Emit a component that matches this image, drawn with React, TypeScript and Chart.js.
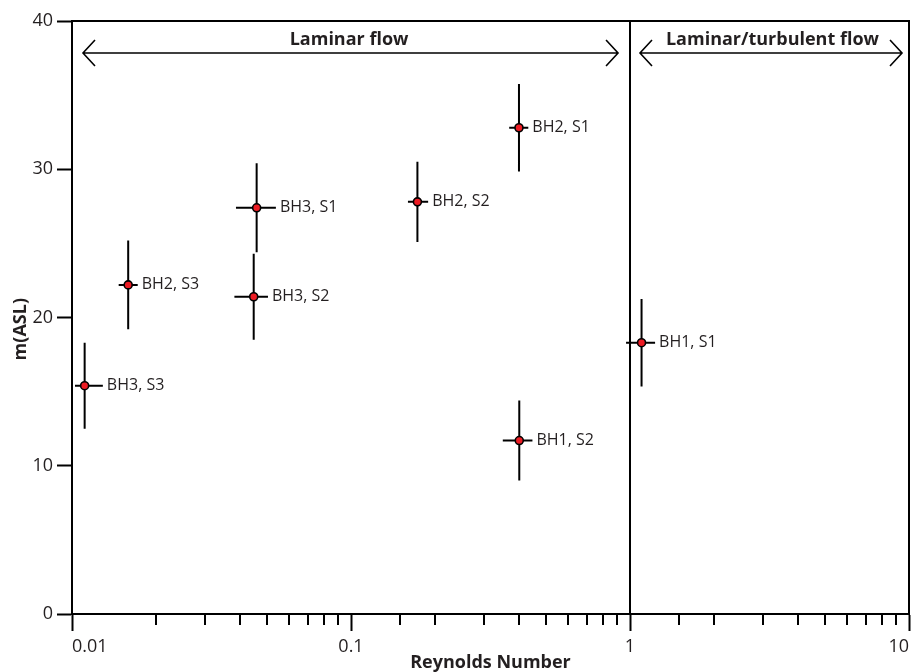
import React, { useEffect, useRef } from 'react';
import { Chart, registerables } from 'chart.js';

Chart.register(...registerables);

// ---- data ----
const sampleLabels = ['BH3, S3', 'BH2, S3', 'BH3, S2', 'BH3, S1', 'BH2, S2', 'BH2, S1', 'BH1, S2', 'BH1, S1'];
const reynolds = [0.0111, 0.0159, 0.0448, 0.0459, 0.173, 0.4, 0.401, 1.1];
const reynoldsLow = [0.01025, 0.0147, 0.0382, 0.0387, 0.16, 0.369, 0.35, 0.968];
const reynoldsHigh = [0.0129, 0.0172, 0.0504, 0.0538, 0.189, 0.432, 0.447, 1.23];
const elevation = [15.4, 22.2, 21.4, 27.4, 27.8, 32.8, 11.7, 18.3];
const elevationErr = [2.9, 3.0, 2.9, 3.0, 2.7, 2.95, 2.7, 2.95];
const xTickLabels = [0.01, 0.1, 1, 10];
const yTickValues = [0, 10, 20, 30, 40];

// flow regimes
const regimeBoundary = 1;
const regimeNames = ['Laminar flow', 'Laminar/turbulent flow'];
const regimeFrom = [0.01095, 1.086];
const regimeTo = [0.906, 9.44];
const regimeLabelAt = [0.0984, 3.24];
const regimeArrowLevel = 37.84;
const regimeLabelLevel = 38.4;

const FONT = "'Open Sans', 'Noto Sans', sans-serif";
const TEXT = '#231f20';

const isMajor = (v: number) => {
  const l = Math.log10(v);
  return Math.abs(l - Math.round(l)) < 1e-6;
};

const overlay = {
  id: 'overlay',
  beforeDatasetsDraw(chart: any) {
    const { ctx, chartArea: a, scales } = chart;
    const x = scales.x;
    const y = scales.y;
    ctx.save();
    ctx.strokeStyle = '#000';
    ctx.lineWidth = 2;
    ctx.lineCap = 'butt';
    // top + right frame
    ctx.beginPath();
    ctx.moveTo(a.left - 1, a.top);
    ctx.lineTo(a.right, a.top);
    ctx.lineTo(a.right, a.bottom);
    ctx.stroke();
    // regime boundary
    const bx = x.getPixelForValue(regimeBoundary);
    ctx.beginPath();
    ctx.moveTo(bx, a.top);
    ctx.lineTo(bx, a.bottom);
    ctx.stroke();
    // minor ticks
    ctx.beginPath();
    x.ticks.forEach((t: any) => {
      if (!isMajor(t.value)) {
        const px = Math.round(x.getPixelForValue(t.value));
        ctx.moveTo(px, a.bottom);
        ctx.lineTo(px, a.bottom + 11);
      }
    });
    ctx.stroke();
    // error bars
    ctx.beginPath();
    for (let i = 0; i < reynolds.length; i++) {
      const px = x.getPixelForValue(reynolds[i]);
      const py = y.getPixelForValue(elevation[i]);
      ctx.moveTo(px, y.getPixelForValue(elevation[i] + elevationErr[i]));
      ctx.lineTo(px, y.getPixelForValue(elevation[i] - elevationErr[i]));
      ctx.moveTo(x.getPixelForValue(reynoldsLow[i]), py);
      ctx.lineTo(x.getPixelForValue(reynoldsHigh[i]), py);
    }
    ctx.stroke();
    ctx.restore();
  },
  afterDatasetsDraw(chart: any) {
    const { ctx, scales } = chart;
    const x = scales.x;
    const y = scales.y;
    ctx.save();
    // point labels
    ctx.fillStyle = TEXT;
    ctx.font = `16px ${FONT}`;
    ctx.textAlign = 'left';
    ctx.textBaseline = 'middle';
    for (let i = 0; i < reynolds.length; i++) {
      ctx.fillText(sampleLabels[i], x.getPixelForValue(reynoldsHigh[i]) + 4, y.getPixelForValue(elevation[i]));
    }
    // regime arrows
    ctx.strokeStyle = '#000';
    ctx.lineWidth = 1.6;
    const ay = y.getPixelForValue(regimeArrowLevel);
    for (let i = 0; i < regimeNames.length; i++) {
      const x0 = x.getPixelForValue(regimeFrom[i]);
      const x1 = x.getPixelForValue(regimeTo[i]);
      ctx.beginPath();
      ctx.moveTo(x0, ay);
      ctx.lineTo(x1, ay);
      ctx.moveTo(x0 + 12, ay - 13);
      ctx.lineTo(x0, ay);
      ctx.lineTo(x0 + 12, ay + 13);
      ctx.moveTo(x1 - 12, ay - 13);
      ctx.lineTo(x1, ay);
      ctx.lineTo(x1 - 12, ay + 13);
      ctx.stroke();
      ctx.font = `bold 18px ${FONT}`;
      ctx.textAlign = 'center';
      ctx.textBaseline = 'alphabetic';
      ctx.fillText(regimeNames[i], x.getPixelForValue(regimeLabelAt[i]), y.getPixelForValue(regimeLabelLevel));
    }
    ctx.restore();
  },
};

export default function App() {
  const ref = useRef<HTMLCanvasElement | null>(null);
  useEffect(() => {
    document.body.style.margin = '0';
    if (!ref.current) return;
    const chart = new Chart(ref.current, {
      type: 'scatter',
      data: {
        datasets: [
          {
            data: reynolds.map((v, i) => ({ x: v, y: elevation[i] })),
            pointRadius: 4,
            pointHoverRadius: 4,
            pointBackgroundColor: '#ed1c24',
            pointBorderColor: '#000',
            pointBorderWidth: 1.6,
            showLine: false,
          },
        ],
      },
      options: {
        animation: false,
        responsive: true,
        maintainAspectRatio: false,
        layout: { padding: { top: 21, right: 7, left: 0, bottom: 0 } },
        plugins: { legend: { display: false }, tooltip: { enabled: false } },
        scales: {
          x: {
            type: 'logarithmic',
            min: 0.01,
            max: 10,
            afterFit: (s: any) => {
              s.height = 58;
            },
            border: { display: true, color: '#000', width: 2 },
            grid: {
              drawOnChartArea: false,
              drawTicks: true,
              tickLength: 17,
              tickWidth: 2,
              tickColor: (c: any) => (c.tick && isMajor(c.tick.value) ? '#000' : 'rgba(0,0,0,0)'),
            },
            ticks: {
              autoSkip: false,
              maxRotation: 0,
              align: 'inner',
              padding: 5,
              color: TEXT,
              font: { family: FONT, size: 18 },
              callback: (v: any) => (xTickLabels.some((t) => Math.abs(t - Number(v)) < 1e-9) ? String(Number(v)) : ''),
            },
            title: {
              display: true,
              text: 'Reynolds Number',
              color: TEXT,
              padding: 0,
              font: { family: FONT, size: 18, weight: 'bold', lineHeight: 1 },
            },
          },
          y: {
            min: 0,
            max: 40,
            afterFit: (s: any) => {
              s.width = 72;
            },
            afterBuildTicks: (s: any) => {
              s.ticks = yTickValues.map((v) => ({ value: v }));
            },
            border: { display: true, color: '#000', width: 2 },
            grid: { drawOnChartArea: false, drawTicks: true, tickLength: 15, tickWidth: 2, tickColor: '#000' },
            ticks: {
              padding: 4,
              color: TEXT,
              font: { family: FONT, size: 18 },
            },
            title: {
              display: true,
              text: 'm(ASL)     ',
              color: TEXT,
              padding: { top: 12, bottom: 0 },
              font: { family: FONT, size: 18, weight: 'bold', lineHeight: 1 },
            },
          },
        },
      },
      plugins: [overlay],
    } as any);
    return () => chart.destroy();
  }, []);
  return (
    <div style={{ position: 'relative', width: 916, height: 672, overflow: 'hidden' }}>
      <canvas ref={ref} />
    </div>
  );
}
